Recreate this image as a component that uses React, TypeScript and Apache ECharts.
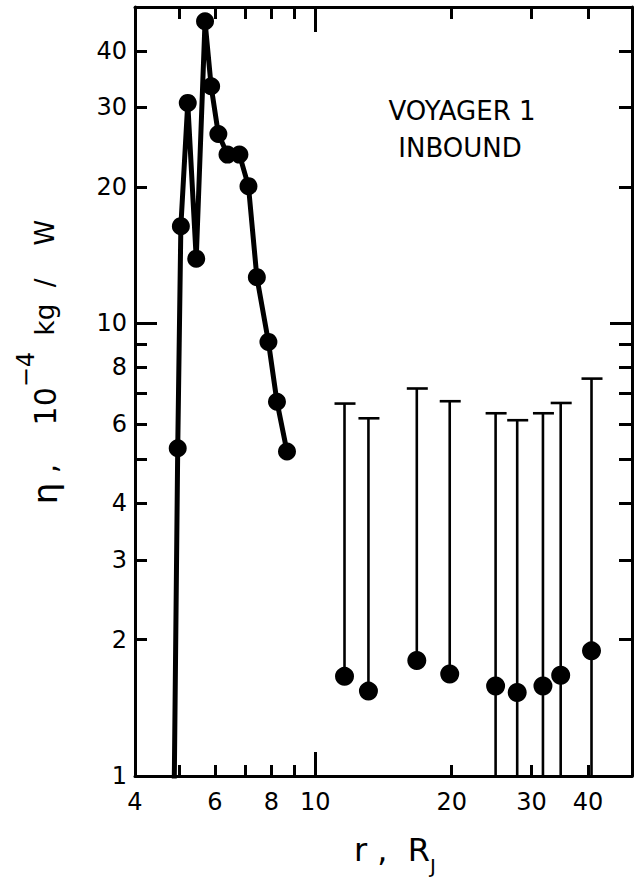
import React, { useEffect, useRef } from 'react';
import * as echarts from 'echarts';

// Axis ranges and ticks
const xMin = 4;
const xMax = 50;
const yMin = 1;
const yMax = 50;
const xMinorTicks = [5, 6, 7, 8, 9, 20, 30, 40];
const xMajorTicks = [10];
const xTickLabels = [4, 6, 8, 10, 20, 30, 40];
const yMinorTicks = [2, 3, 4, 5, 6, 7, 8, 9, 20, 30, 40];
const yMajorTicks = [10];
const yTickLabels = [1, 2, 3, 4, 6, 8, 10, 20, 30, 40];

// Connected profile (r in R_J, eta in 1e-4 kg/W)
const profileR = [4.85, 4.97, 5.05, 5.23, 5.46, 5.71, 5.89, 6.11, 6.4, 6.8, 7.12, 7.43, 7.88, 8.23, 8.66];
const profileEta = [0.5, 5.3, 16.4, 30.7, 13.9, 46.5, 33.4, 26.2, 23.6, 23.6, 20.1, 12.65, 9.1, 6.71, 5.21];

// Outer points with upper limits
const boundR = [11.6, 13.1, 16.75, 19.8, 25.0, 27.9, 31.8, 34.8, 40.7];
const boundEta = [1.66, 1.54, 1.8, 1.68, 1.58, 1.53, 1.58, 1.67, 1.89];
const boundUpper = [6.65, 6.17, 7.18, 6.73, 6.33, 6.11, 6.33, 6.67, 7.55];
const boundLower = [1.66, 1.54, 1.8, 1.68, 0.5, 0.5, 0.5, 0.5, 0.5];

const FONT = 'DejaVu Sans';
const BLACK = '#000';

function xAxisDef(position: 'bottom' | 'top', ticks: number[], len: number, showLine: boolean, labels: number[] | null) {
  return {
    type: 'log',
    logBase: 10,
    min: xMin,
    max: xMax,
    position,
    splitLine: { show: false },
    axisLine: { show: showLine, onZero: false, lineStyle: { color: BLACK, width: 3 } },
    axisTick: { show: true, inside: true, length: len, customValues: ticks, lineStyle: { color: BLACK, width: 3 } },
    axisLabel: labels
      ? {
          show: true,
          customValues: labels,
          fontSize: 24,
          fontFamily: FONT,
          color: BLACK,
          margin: 14,
          formatter: (v: number) => String(Math.round(v)),
        }
      : { show: false },
  };
}

function yAxisDef(position: 'left' | 'right', ticks: number[], len: number, showLine: boolean, labels: number[] | null) {
  return {
    type: 'log',
    logBase: 10,
    min: yMin,
    max: yMax,
    position,
    splitLine: { show: false },
    axisLine: { show: showLine, onZero: false, lineStyle: { color: BLACK, width: 3 } },
    axisTick: { show: true, inside: true, length: len, customValues: ticks, lineStyle: { color: BLACK, width: 3 } },
    axisLabel: labels
      ? {
          show: true,
          customValues: labels,
          fontSize: 24,
          fontFamily: FONT,
          color: BLACK,
          margin: 8,
          formatter: (v: number) => String(Math.round(v)),
        }
      : { show: false },
  };
}

export default function App() {
  const ref = useRef<HTMLDivElement>(null);

  useEffect(() => {
    document.body.style.margin = '0';
    if (!ref.current) return;
    const chart = echarts.init(ref.current, undefined, { renderer: 'svg' });

    const profileData = profileR.map((r, i) =>
      i === 0 ? { value: [r, profileEta[i]], symbol: 'none' } : [r, profileEta[i]]
    );
    const boundData = boundR.map((r, i) => [r, boundEta[i], boundUpper[i], boundLower[i]]);
    const dotData = boundR.map((r, i) => [r, boundEta[i]]);

    const option: any = {
      animation: false,
      backgroundColor: '#fff',
      grid: { left: 135, right: 11, top: 7, bottom: 101, containLabel: false },
      xAxis: [
        xAxisDef('bottom', xMinorTicks, 11, true, xTickLabels),
        xAxisDef('bottom', xMajorTicks, 24, false, null),
        xAxisDef('top', xMinorTicks, 12, true, null),
        xAxisDef('top', xMajorTicks, 25, false, null),
      ],
      yAxis: [
        yAxisDef('left', yMinorTicks, 12, true, yTickLabels),
        yAxisDef('left', yMajorTicks, 22, false, null),
        yAxisDef('right', yMinorTicks, 13, true, null),
        yAxisDef('right', yMajorTicks, 22, false, null),
      ],
      series: [
        {
          type: 'line',
          xAxisIndex: 0,
          yAxisIndex: 0,
          data: profileData,
          symbol: 'circle',
          symbolSize: 18,
          clip: true,
          lineStyle: { color: BLACK, width: 5, join: 'round', cap: 'round' },
          itemStyle: { color: BLACK, opacity: 1 },
          z: 3,
        },
        {
          type: 'custom',
          xAxisIndex: 0,
          yAxisIndex: 0,
          clip: true,
          data: boundData,
          encode: { x: 0, y: [1, 2, 3] },
          renderItem: (params: any, api: any) => {
            const r = api.value(0);
            const hi = api.value(2);
            const lo = api.value(3);
            const top = api.coord([r, hi]);
            const bot = api.coord([r, lo]);
            return {
              type: 'group',
              children: [
                {
                  type: 'line',
                  shape: { x1: top[0], y1: top[1], x2: bot[0], y2: bot[1] },
                  style: { stroke: BLACK, lineWidth: 2.6 },
                },
                {
                  type: 'line',
                  shape: { x1: top[0] - 10, y1: top[1], x2: top[0] + 11, y2: top[1] },
                  style: { stroke: BLACK, lineWidth: 2.6 },
                },
              ],
            };
          },
          z: 2,
        },
        {
          type: 'scatter',
          xAxisIndex: 0,
          yAxisIndex: 0,
          data: dotData,
          symbol: 'circle',
          symbolSize: 19,
          itemStyle: { color: BLACK, opacity: 1 },
          z: 4,
        },
      ],
      graphic: [
        {
          type: 'text',
          x: 462,
          y: 111,
          style: { text: 'VOYAGER 1', fontSize: 26, fontFamily: FONT, fill: BLACK, align: 'center', verticalAlign: 'middle' },
        },
        {
          type: 'text',
          x: 460,
          y: 148,
          style: { text: 'INBOUND', fontSize: 26, fontFamily: FONT, fill: BLACK, align: 'center', verticalAlign: 'middle' },
        },
        {
          type: 'text',
          x: 395,
          y: 834,
          style: {
            text: '{a|r ,  R}{s|J}',
            align: 'center',
            verticalAlign: 'top',
            fill: BLACK,
            rich: {
              a: { fontSize: 32, fontFamily: FONT, fill: BLACK, verticalAlign: 'top' },
              s: { fontSize: 20, fontFamily: FONT, fill: BLACK, verticalAlign: 'top', padding: [22, 0, 0, 0] },
            },
          },
        },
        {
          type: 'text',
          x: 38,
          y: 362,
          rotation: Math.PI / 2,
          style: {
            text: '{e|η}{a| ,    10}{s|−4}{b|  kg  /    W}',
            align: 'center',
            verticalAlign: 'middle',
            fill: BLACK,
            rich: {
              e: { fontSize: 34, fontFamily: FONT, fill: BLACK, verticalAlign: 'top', padding: [14, 0, 0, 0] },
              a: { fontSize: 30, fontFamily: FONT, fill: BLACK, verticalAlign: 'top', padding: [16, 0, 0, 0] },
              s: { fontSize: 24, fontFamily: FONT, fill: BLACK, verticalAlign: 'top', padding: [0, 0, 0, 0] },
              b: { fontSize: 26, fontFamily: FONT, fill: BLACK, verticalAlign: 'top', padding: [18, 0, 0, 0] },
            },
          },
        },
      ],
    };

    chart.setOption(option);
    return () => chart.dispose();
  }, []);

  return <div ref={ref} style={{ width: 643, height: 877 }} />;
}
